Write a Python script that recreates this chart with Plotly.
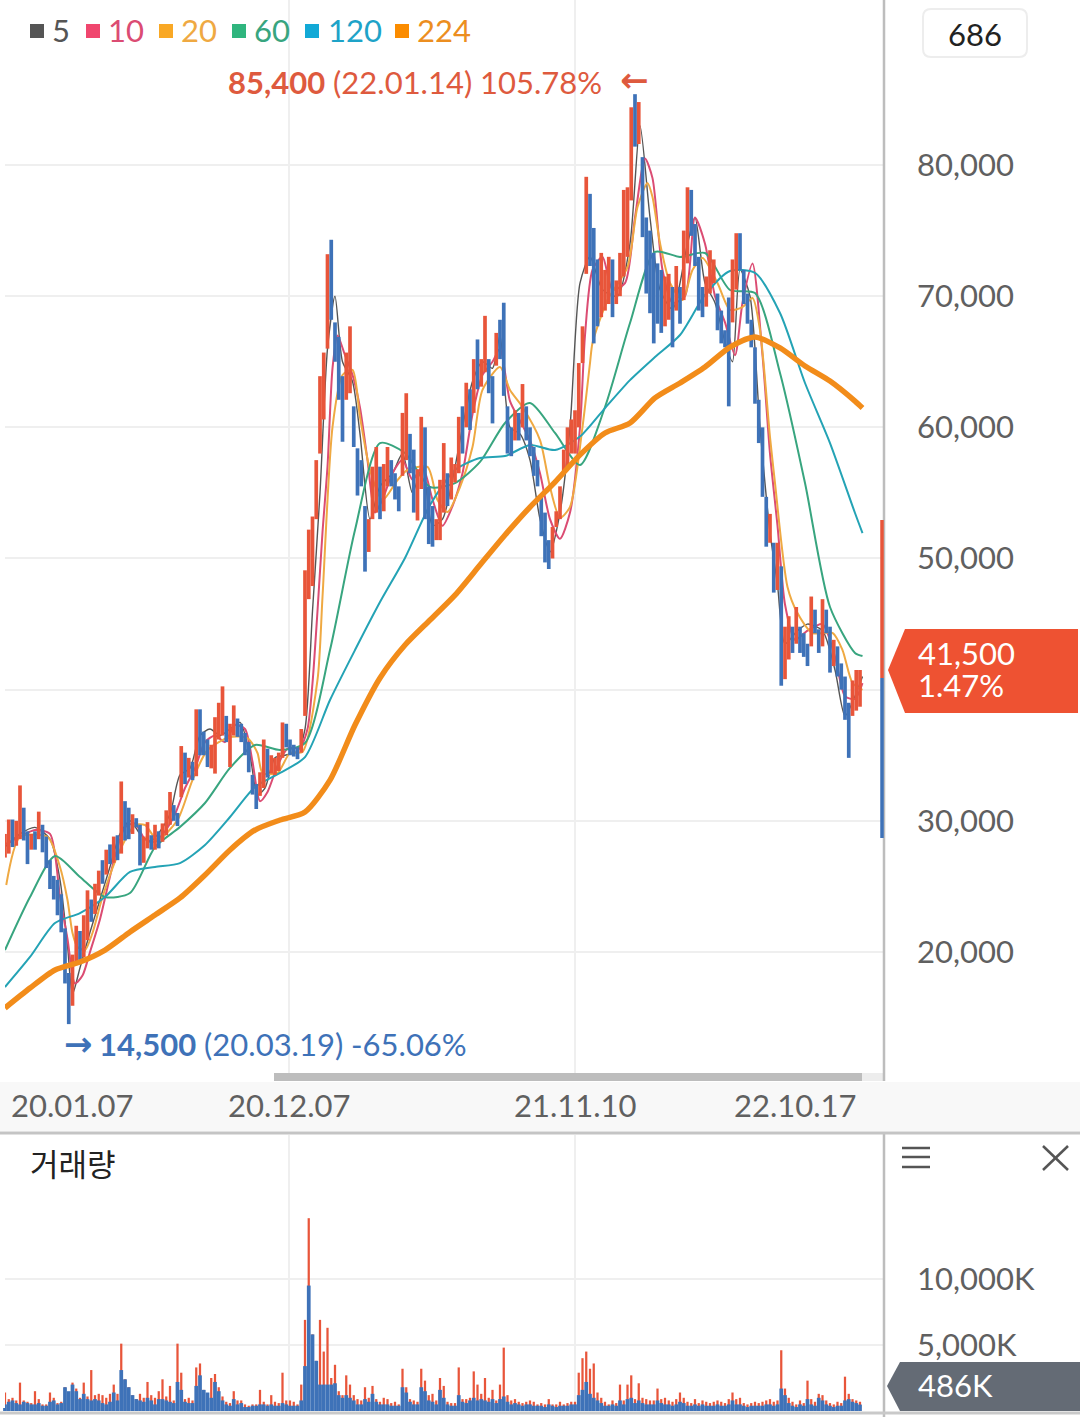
import plotly.graph_objects as go

# --- price candles (one candle every 3 sessions) ---
highs = [
    29000, 30100, 30100, 30000, 32700, 31000, 29200, 29000, 29200, 30700,
    29700, 28800, 27000, 25800, 25500, 24400, 21800, 18400, 19800, 22000,
    21600, 22800, 24700, 24000, 25200, 26200, 27000, 27800, 28200, 28800,
    28900, 33000, 31500, 31000, 30500, 30200, 29700, 28800, 29900, 28900,
    29700, 29200, 29800, 30800, 32200, 31200, 30600, 35700, 35200, 34800,
    34500, 38500, 38500, 36800, 36200, 35800, 37900, 39000, 40250, 38000,
    37400, 38800, 37800, 37400, 36700, 36000, 33500, 32800, 33700, 36200,
    35500, 35000, 34800, 35200, 37500, 37400, 36200, 35800, 35600, 37000,
    49100, 52200, 53200, 57500, 63900, 65700, 73200, 74300, 68000, 66900,
    63900, 65700, 67700, 61600, 58400, 57500, 54000, 53000, 57000, 58500,
    57000, 57200, 58500, 57500, 56500, 55500, 61100, 62600, 59500, 58300,
    56800, 60800, 60000, 55500, 54000, 53000, 56000, 58800, 56500, 57700,
    57200, 60800, 61600, 63400, 62900, 65200, 66700, 65200, 68500, 65200,
    63900, 67200, 68200, 69500, 61600, 60000, 61300, 61100, 63300, 61600,
    60000, 58500, 57500, 54700, 53500, 51400, 52400, 53600, 55500, 58300,
    60000, 60600, 61300, 64900, 67700, 79100, 77800, 75200, 72800, 73300,
    72000, 73000, 72800, 71200, 73300, 78100, 78300, 84400, 85400, 84800,
    80600, 76000, 75000, 73300, 72500, 72000, 71500, 71700, 70700, 72300,
    70700, 75000, 78300, 78100, 75500, 73000, 70700, 71500, 73500, 72800,
    70200, 68900, 67400, 69900, 72800, 74800, 74800, 72000, 70200, 68200,
    66100, 62100, 60000, 54700, 53400, 51200, 51200, 49400, 44800, 45600,
    44800, 46300, 44800, 44300, 43500, 47100, 46100, 44600, 46900, 46100,
    44800, 43800, 43300, 42000, 41000, 39000, 40700, 41500, 41500,
]
lows = [
    27200, 27500, 28000, 28100, 28600, 28500, 26700, 27800, 27800, 28600,
    27600, 26400, 24800, 24000, 22800, 21500, 17600, 14500, 15900, 19000,
    19400, 19600, 20900, 22300, 22900, 24300, 25200, 25900, 26700, 26800,
    27000, 27500, 28500, 28600, 29000, 29500, 26600, 26800, 27900, 27800,
    27800, 27900, 28400, 28900, 29700, 30000, 29600, 31800, 32800, 33300,
    33100, 33400, 35000, 35000, 34100, 34000, 33600, 36200, 36500, 36000,
    34100, 36500, 36400, 36000, 35000, 33700, 32000, 30900, 31900, 32500,
    33300, 33600, 33500, 33800, 34800, 35600, 35000, 34900, 34700, 35200,
    38000, 46900, 47900, 53000, 58000, 60600, 66000, 68200, 65000, 62100,
    58900, 62100, 62600, 58500, 54800, 55500, 49000, 50500, 53000, 53500,
    53000, 53600, 55500, 55500, 54500, 53600, 56300, 57500, 56500, 53500,
    52900, 55300, 53000, 51100, 50900, 51400, 51400, 53500, 54000, 54500,
    55800, 56500, 58000, 60000, 59800, 61100, 62900, 63100, 64200, 62600,
    60300, 64700, 65200, 62400, 58000, 57800, 59000, 59000, 60000, 59000,
    57800, 56300, 55500, 51700, 49700, 49200, 50000, 52400, 53000, 56500,
    57000, 58000, 58000, 60000, 64900, 71700, 72300, 66400, 67700, 68400,
    68900, 69400, 68400, 69400, 70000, 71500, 73000, 77300, 81400, 81600,
    74500, 70200, 68700, 66400, 67900, 67200, 67700, 68200, 66100, 68900,
    67900, 69700, 72500, 74600, 72300, 68900, 68400, 69200, 70200, 71000,
    67400, 66400, 66100, 61600, 68000, 70500, 72000, 69400, 67900, 66100,
    61800, 58800, 54700, 50900, 51200, 47400, 47600, 40300, 40800, 42300,
    42800, 43500, 42800, 42500, 41800, 43300, 44300, 42800, 43300, 44300,
    41300, 41800, 41000, 40000, 37700, 34800, 38000, 38400, 38700,
]
closes = [
    27600, 29600, 28400, 29000, 31000, 28900, 28000, 28400, 28300, 30000,
    28800, 27000, 25500, 24600, 24000, 21800, 18000, 15400, 19000, 21000,
    20200, 22000, 23500, 22900, 24700, 25900, 25400, 27500, 27000, 28200,
    27400, 31000, 30500, 29800, 30200, 29700, 27000, 28000, 28600, 28300,
    29000, 28500, 29400, 30000, 31500, 30600, 30000, 34000, 33600, 33800,
    33500, 37500, 36200, 36000, 34800, 35000, 37000, 37800, 38000, 36700,
    36800, 38000, 37000, 36600, 35600, 34300, 32500, 31500, 33000, 34800,
    33900, 34000, 34600, 34900, 36500, 36300, 35300, 35200, 35000, 36800,
    47500, 50000, 50500, 54500, 60000, 63500, 72500, 69500, 66000, 64000,
    61500, 64800, 66500, 59200, 56800, 55900, 50500, 51500, 55500, 57000,
    54000, 55900, 57500, 56000, 55000, 54000, 60000, 60500, 57000, 55000,
    55600, 57500, 55000, 52500, 51800, 52300, 54500, 56500, 55000, 56000,
    56400, 60000, 59000, 62000, 60500, 64000, 63500, 64000, 65800, 63500,
    60800, 66500, 66000, 64000, 59000, 58800, 60200, 59700, 61500, 59800,
    58500, 57000, 56000, 52500, 50500, 50300, 51200, 53200, 54800, 57500,
    58000, 59500, 60000, 62500, 67000, 77000, 72800, 70000, 68500, 69500,
    70000, 70500, 69500, 70000, 72000, 74000, 76000, 83000, 82000, 83000,
    76000, 74000, 71000, 69500, 69000, 68500, 68800, 69000, 68000, 70000,
    68800, 73000, 76500, 76000, 73000, 70000, 69000, 70000, 71500, 71500,
    68500, 67000, 66500, 63500, 71500, 73500, 73000, 70000, 68500, 66500,
    62500, 59500, 55500, 52000, 52500, 48500, 49000, 42500, 43000, 44000,
    43500, 44800, 43500, 43000, 42800, 46000, 45000, 43500, 46000, 45000,
    42000, 42500, 42000, 41000, 38500, 36500, 39000, 39800, 41500,
]
opens = [closes[0]] + closes[:-1]
candle_idx = list(range(0, 687, 3))

# --- volume, thousands of shares, same sessions as the candles ---
vol_red = [
    1400, 900, 1000, 800, 2150, 800, 700, 600, 1500, 900,
    500, 500, 1400, 1000, 600, 700, 1800, 1200, 2150, 1700,
    1000, 2150, 1100, 3100, 1200, 1300, 1200, 1000, 1300, 2000,
    1300, 5100, 2400, 1800, 1200, 900, 1300, 1000, 2200, 1200,
    1000, 1500, 2400, 1100, 1900, 800, 5100, 2900, 900, 1000,
    800, 3300, 3600, 1600, 1200, 2500, 2800, 1800, 1100, 700,
    600, 1500, 800, 800, 500, 400, 500, 500, 1600, 700,
    500, 1200, 700, 600, 2900, 800, 800, 700, 500, 2000,
    6900, 14600, 5800, 3800, 6900, 4500, 6300, 2500, 3500, 1500,
    1200, 2700, 2000, 1200, 900, 800, 1800, 1000, 1900, 900,
    700, 1000, 900, 600, 700, 500, 3200, 1800, 900, 800,
    700, 3200, 2300, 1200, 1300, 800, 2500, 1900, 700, 600,
    600, 3300, 900, 900, 1000, 3000, 2000, 1300, 2500, 1000,
    1600, 800, 2000, 4800, 1200, 800, 900, 700, 600, 700,
    800, 700, 500, 600, 500, 900, 500, 500, 700, 500,
    600, 700, 700, 2900, 4000, 4500, 3200, 3600, 1400, 1000,
    700, 500, 800, 600, 2000, 800, 2000, 2700, 900, 2100,
    1000, 900, 800, 800, 1700, 900, 1000, 800, 700, 900,
    1400, 1000, 700, 600, 900, 600, 800, 700, 600, 700,
    800, 700, 600, 900, 1400, 900, 1000, 600, 500, 600,
    700, 600, 700, 800, 900, 700, 800, 4600, 1700, 1000,
    700, 500, 800, 600, 2300, 900, 700, 1300, 1200, 800,
    600, 500, 700, 600, 2600, 1300, 900, 800, 700,
]
vol_blue = [
    500, 700, 800, 600, 500, 700, 600, 500, 500, 600,
    400, 400, 700, 800, 500, 600, 1800, 1500, 2000, 1500,
    900, 1300, 900, 800, 900, 800, 600, 500, 700, 1400,
    800, 3100, 2400, 1800, 1200, 900, 800, 700, 1000, 800,
    500, 900, 900, 800, 700, 600, 2200, 1600, 700, 600,
    600, 1900, 2700, 1600, 1400, 1000, 2200, 1500, 800, 500,
    400, 900, 500, 600, 300, 300, 400, 400, 500, 500,
    400, 500, 400, 400, 600, 500, 400, 400, 400, 800,
    3400, 9500, 5800, 3800, 2000, 2000, 2000, 2000, 2100, 1200,
    1000, 1200, 1000, 800, 500, 500, 900, 700, 1300, 700,
    500, 500, 500, 400, 400, 400, 1800, 1400, 700, 500,
    500, 1800, 1500, 800, 700, 500, 1600, 1000, 500, 400,
    400, 1200, 700, 600, 800, 1000, 800, 900, 800, 700,
    900, 600, 900, 1100, 700, 500, 600, 500, 400, 500,
    500, 400, 400, 400, 300, 500, 400, 300, 400, 400,
    400, 500, 500, 1200, 1600, 2200, 1300, 1000, 800, 600,
    400, 400, 500, 400, 800, 500, 900, 1000, 600, 800,
    600, 500, 500, 500, 800, 600, 500, 500, 400, 500,
    700, 600, 400, 400, 500, 400, 500, 400, 400, 400,
    500, 400, 400, 500, 800, 500, 500, 400, 300, 400,
    400, 400, 400, 500, 500, 400, 500, 1700, 1200, 600,
    400, 300, 500, 400, 900, 500, 400, 1000, 800, 500,
    400, 300, 400, 400, 800, 900, 700, 600, 486,
]

# --- moving averages ---
long_ma_idx = list(range(0, 681, 20)) + [686]
ma60 = [20150, 24190, 27320, 25720, 24190, 24500, 28000, 29530, 31360, 34030, 35780, 35400,
        35930, 43020, 52170, 58800, 58040, 55450, 55750, 57360, 60330, 61860, 59570, 57130,
        61550, 67950, 73370, 72990, 73290, 70470, 70240, 64140, 55750, 46300, 42800, 42570]
ma120 = [17330, 19620, 22210, 22970, 24190, 26100, 26480, 26780, 28160, 30290, 32580, 33650,
         34860, 39210, 43020, 46680, 50040, 54080, 56750, 57660, 57810, 58650, 58270, 59300,
         61470, 63600, 65360, 67040, 70090, 71920, 71770, 68720, 63380, 58800, 53470, 51940]
ma224 = [15730, 17250, 18630, 19240, 20150, 21530, 22820, 24120, 25870, 27780, 29300, 30060,
         30670, 33100, 37300, 40890, 43400, 45310, 47210, 49500, 51790, 53920, 55830, 57900,
         59570, 60330, 62240, 63380, 64600, 66120, 66890, 66050, 64680, 63530, 62000, 61470]

ma20_idx = [1, 12, 34, 44, 50, 54, 58, 64, 70, 78, 92, 104, 112, 122, 138, 150, 162, 180, 194,
            202, 206, 218, 228, 238, 250, 254, 262, 270, 278, 284, 292, 302, 314, 322, 338,
            346, 354, 364, 374, 382, 396, 404, 414, 428, 436, 444, 452, 462, 468, 470, 482,
            498, 506, 514, 518, 524, 532, 542, 550, 558, 570, 580, 590, 598, 604, 612, 616,
            626, 634, 646, 662, 670, 678, 686]
ma20 = [25110, 28770, 28770, 26480, 23960, 21450, 20380, 20150, 21450, 24190, 27770, 29680,
        29680, 28540, 30060, 33110, 35400, 36390, 36310, 35170, 33650, 33650, 35170, 35250,
        40740, 47060, 60020, 63990, 64370, 60790, 56750, 54460, 55980, 56750, 56980, 54460,
        53540, 55450, 58500, 62850, 64600, 62850, 61550, 59030, 55450, 53090, 53930, 60020,
        64900, 66430, 69710, 72220, 76800, 78630, 77560, 74050, 71000, 69710, 71990, 72910,
        71000, 68950, 69170, 69860, 67420, 59260, 55750, 47830, 45840, 44320, 44320, 43020,
        40510, 39980]

ma10_idx = [0, 12, 24, 36, 44, 50, 56, 62, 68, 76, 88, 96, 104, 112, 120, 128, 136, 144, 152,
            160, 168, 176, 184, 192, 198, 204, 210, 218, 226, 236, 242, 246, 250, 254, 258,
            262, 266, 272, 278, 284, 290, 296, 302, 310, 318, 326, 334, 342, 350, 358, 366,
            374, 382, 390, 396, 404, 412, 420, 428, 436, 444, 452, 460, 464, 470, 478, 486,
            496, 504, 512, 518, 526, 534, 544, 552, 560, 568, 576, 584, 590, 598, 606, 612,
            618, 624, 632, 642, 654, 664, 672, 680, 686]
ma10 = [28200, 28800, 29300, 29000, 24200, 21000, 17600, 18200, 20000, 22500, 27300, 29500,
        29800, 28600, 28400, 29200, 30500, 32500, 34000, 36000, 36500, 36000, 37300, 37000,
        34500, 31500, 32200, 34200, 35500, 35600, 37000, 40500, 46000, 52000, 57000, 64500,
        67000, 65500, 64000, 61500, 57500, 53500, 54500, 56500, 57500, 56000, 57000, 54500,
        52500, 54000, 56500, 61000, 64000, 65000, 66000, 62000, 60500, 59000, 56500, 53000,
        51500, 53500, 60000, 67000, 72000, 73000, 70500, 71000, 76000, 80500, 79000, 72000,
        69500, 70000, 76000, 74000, 70000, 68000, 65500, 69500, 72500, 65500, 58000, 52500,
        46500, 43800, 44500, 45000, 42500, 39500, 39300, 40500]

ma5_idx = [0, 12, 24, 36, 44, 50, 54, 60, 68, 76, 84, 92, 100, 108, 116, 124, 132, 140, 148,
           156, 164, 172, 180, 188, 196, 202, 208, 216, 224, 234, 240, 246, 252, 258, 264,
           270, 278, 284, 292, 300, 310, 318, 326, 334, 342, 350, 358, 366, 374, 382, 390,
           396, 404, 412, 420, 428, 436, 444, 452, 460, 468, 478, 490, 500, 508, 516, 524,
           534, 546, 552, 560, 568, 576, 582, 588, 596, 604, 612, 618, 624, 634, 642, 654,
           664, 672, 680, 686]
ma5 = [28000, 29000, 29500, 28600, 25500, 20500, 16800, 18800, 21500, 24000, 26500, 29000,
       30000, 29000, 28400, 29200, 30500, 33500, 34000, 36500, 37000, 36500, 37000, 37500,
       35000, 32000, 32500, 34800, 35000, 35300, 37000, 46000, 55000, 66000, 70000, 65000,
       63500, 59500, 53000, 55500, 56500, 58000, 55000, 57000, 52500, 53000, 56000, 60000,
       63500, 65000, 64500, 67000, 60000, 59500, 57500, 53000, 50500, 53500, 60000, 71000,
       73000, 70500, 70000, 74000, 83000, 76000, 70500, 69000, 74000, 76000, 71000, 69500,
       66500, 65000, 72000, 70000, 60000, 52000, 48000, 43500, 44500, 45000, 44500, 41500,
       38000, 39500, 41000]

price_ticks = [20000, 30000, 40000, 50000, 60000, 70000, 80000]
volume_ticks = [5000, 10000]
volume_tick_text = ["5,000K", "10,000K"]
date_grid_idx = [227, 456]

RED = "#E8553A"
BLUE = "#3E72B8"
GRAY_TEXT = "#606060"
W, H = 1080, 1417
FONT = "Lato"
PRICE_RANGE = [10240, 92580]


def fx(x):
    return x / W


def fy(y):
    return 1 - y / H


def label(x, y, text, size=31, color=GRAY_TEXT, anchor="left", font=FONT):
    fig.add_annotation(
        x=fx(x), y=fy(y), xref="paper", yref="paper", text=text, showarrow=False,
        xanchor=anchor, yanchor="middle", borderpad=0, borderwidth=0,
        font=dict(family=font, size=size, color=color),
    )


def box(x0, y0, x1, y1, color, layer="above"):
    fig.add_shape(type="rect", xref="paper", yref="paper", x0=fx(x0), x1=fx(x1),
                  y0=fy(y0), y1=fy(y1), fillcolor=color, line_width=0, layer=layer)


def stroke(x0, y0, x1, y1, color, width):
    fig.add_shape(type="line", xref="paper", yref="paper", x0=fx(x0), x1=fx(x1),
                  y0=fy(y0), y1=fy(y1), line=dict(color=color, width=width))


def tag(points, color):
    path = "M " + " L ".join(f"{fx(px)},{fy(py)}" for px, py in points) + " Z"
    fig.add_shape(type="path", xref="paper", yref="paper", path=path, fillcolor=color, line_width=0)


def ma_line(xs, ys, color, width, yaxis):
    return go.Scatter(x=xs, y=ys, mode="lines", xaxis="x", yaxis=yaxis, hoverinfo="skip",
                      line=dict(color=color, width=width, shape="spline", smoothing=0.7))


fig = go.Figure()

# averages sit under the price bars, only the 224 stays on top (overlay axes keep the order)
fig.add_trace(ma_line(ma5_idx, ma5, "#555555", 1.4, "y"))
fig.add_trace(ma_line(ma10_idx, ma10, "#DB4C73", 2, "y"))
fig.add_trace(ma_line(ma20_idx, ma20, "#EFA942", 2, "y"))
fig.add_trace(ma_line(long_ma_idx, ma60, "#38A57F", 2, "y"))
fig.add_trace(ma_line(long_ma_idx, ma120, "#24A3B5", 2, "y"))
fig.add_trace(go.Ohlc(
    x=candle_idx, open=opens, high=highs, low=lows, close=closes, tickwidth=0,
    increasing=dict(line=dict(color=RED, width=3.7)),
    decreasing=dict(line=dict(color=BLUE, width=3.7)),
    xaxis="x", yaxis="y3", hoverinfo="skip",
))
fig.add_trace(ma_line(long_ma_idx, ma224, "#F28C1A", 5.5, "y4"))

fig.add_trace(go.Bar(x=candle_idx, y=vol_red, width=1.8, marker=dict(color=RED, line_width=0),
                     xaxis="x2", yaxis="y2"))
fig.add_trace(go.Bar(x=candle_idx, y=vol_blue, width=3, marker=dict(color=BLUE, line_width=0),
                     xaxis="x2", yaxis="y2"))

grid = "#EFEFEF"
x_range = [-4, 702.4]
fig.update_layout(
    width=W, height=H, autosize=False, showlegend=False, barmode="overlay",
    margin=dict(l=0, r=0, t=0, b=0), paper_bgcolor="white", plot_bgcolor="white",
    xaxis=dict(domain=[0, 883 / W], range=x_range, tickvals=date_grid_idx, showticklabels=False,
               showgrid=True, gridcolor=grid, gridwidth=1.5, zeroline=False, ticks="",
               showline=False, rangeslider=dict(visible=False), anchor="y"),
    yaxis=dict(domain=[fy(1080), 1], range=PRICE_RANGE, side="right", tickvals=price_ticks,
               tickformat=",", showgrid=True, gridcolor=grid, gridwidth=1.5, zeroline=False,
               ticks="", ticklabelstandoff=33, tickfont=dict(family=FONT, size=31, color=GRAY_TEXT),
               anchor="x"),
    yaxis3=dict(overlaying="y", range=PRICE_RANGE, visible=False, anchor="x"),
    yaxis4=dict(overlaying="y", range=PRICE_RANGE, visible=False, anchor="x"),
    xaxis2=dict(domain=[0, 883 / W], range=x_range, tickvals=date_grid_idx, showticklabels=False,
                showgrid=True, gridcolor=grid, gridwidth=1.5, zeroline=False, ticks="",
                anchor="y2"),
    yaxis2=dict(domain=[fy(1411), fy(1135)], range=[0, 20900], side="right", tickvals=volume_ticks,
                ticktext=volume_tick_text, showgrid=True, gridcolor=grid, gridwidth=1.5,
                zeroline=False, ticks="", ticklabelstandoff=33,
                tickfont=dict(family=FONT, size=31, color=GRAY_TEXT), anchor="x2"),
)

# frame, date band and scroll bar
box(0, 0, 5, 1072, "white")
box(0, 1135, 5, 1408, "white")
box(0, 1082, W, 1131, "#F8F8F8")
box(862, 1073, 884, 1081, "#EDEDED")
box(274, 1073, 862, 1081, "#BDBDBD")
stroke(884, 0, 884, 1081, "#BDBDBD", 2.5)
stroke(884, 1133, 884, 1417, "#BDBDBD", 2.5)
stroke(0, 1133, W, 1133, "#C4C4C4", 3)
stroke(0, 1413, W, 1413, "#C9C9C9", 3)

# date labels
for text, cx in [("20.01.07", 72), ("20.12.07", 289), ("21.11.10", 575), ("22.10.17", 795)]:
    label(cx, 1105, text, anchor="center")

# legend
for name, sq_x, text_x, sq_color, text_color in [
    ("5", 30, 52, "#555555", "#555555"),
    ("10", 86, 108, "#F0466E", "#DB4C73"),
    ("20", 159, 181, "#F9A825", "#EFA942"),
    ("60", 232, 254, "#2FB57E", "#38A57F"),
    ("120", 305, 328, "#12A9D6", "#1EA3C8"),
    ("224", 395, 417, "#FB8C00", "#EC8E20"),
]:
    box(sq_x, 24, sq_x + 14, 38, sq_color)
    label(text_x, 30, name, color=text_color)

# high / low notes
label(228, 82, "<b>85,400</b> (22.01.14) 105.78%", color="#DE5A3E")
label(620, 80, "<b>←</b>", size=34, color="#DE5A3E", font="DejaVu Sans")
label(64, 1044, "<b>→</b>", size=34, color=BLUE, font="DejaVu Sans")
label(99, 1044, "<b>14,500</b> (20.03.19) -65.06%", color=BLUE)

# counter box
fig.add_shape(type="path", xref="paper", yref="paper", fillcolor="white",
              line=dict(color="#EDEDED", width=2),
              path=" ".join([
                  f"M {fx(931)},{fy(9)} L {fx(1019)},{fy(9)} Q {fx(1027)},{fy(9)} {fx(1027)},{fy(17)}",
                  f"L {fx(1027)},{fy(49)} Q {fx(1027)},{fy(57)} {fx(1019)},{fy(57)}",
                  f"L {fx(931)},{fy(57)} Q {fx(923)},{fy(57)} {fx(923)},{fy(49)}",
                  f"L {fx(923)},{fy(17)} Q {fx(923)},{fy(9)} {fx(931)},{fy(9)} Z",
              ]))
label(975, 34, "686", color="#222222", anchor="center")

# current price marker
stroke(882, 520, 882, 678, RED, 3.5)
stroke(882, 678, 882, 838, BLUE, 3.5)
tag([(888, 670), (905, 629), (1078, 629), (1078, 713), (905, 713)], "#EE5232")
label(918, 653, "41,500", color="white")
label(918, 685, "1.47%", color="white")

# volume pane
label(30, 1162, "거래량", size=31, color="#222222", font="Noto Sans CJK KR")
tag([(887, 1386), (900, 1362), (1080, 1362), (1080, 1411), (900, 1411)], "#646B75")
label(918, 1385, "486K", color="white")
for y in [1148, 1157, 1167]:
    stroke(902, y, 930, y, "#555555", 2.5)
stroke(1043, 1146, 1068, 1170, "#555555", 2.5)
stroke(1068, 1146, 1043, 1170, "#555555", 2.5)

fig.write_html("out.html", config=dict(displayModeBar=False),
               post_script="document.body.style.margin='0';")
